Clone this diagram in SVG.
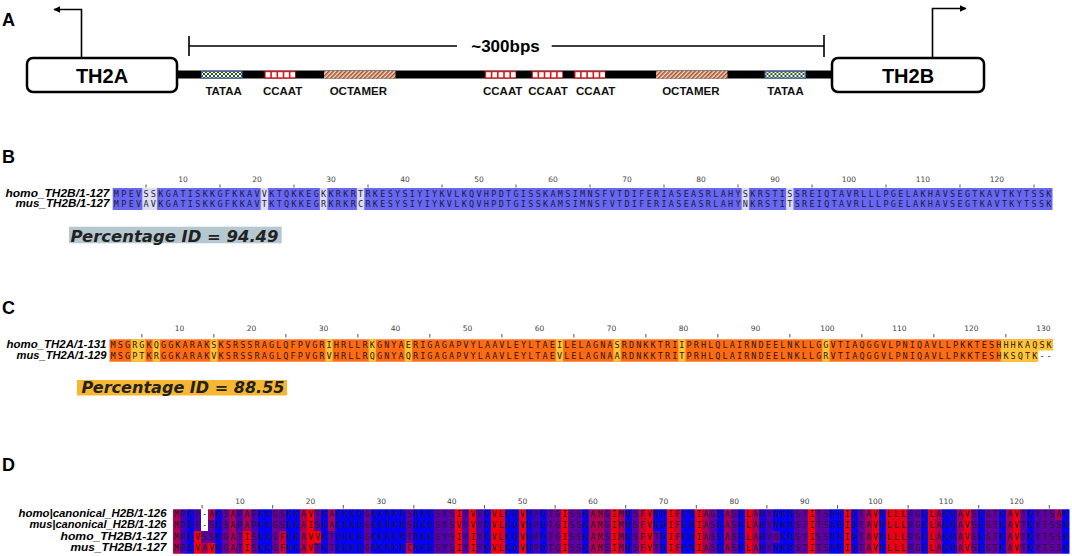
<svg xmlns="http://www.w3.org/2000/svg" width="1072" height="556" viewBox="0 0 1072 556">
<defs>
<style>
.plab{font-family:"Liberation Sans",Arial,sans-serif;font-weight:bold;font-size:18px;fill:#000}
.gene{font-family:"Liberation Sans",Arial,sans-serif;font-weight:bold;font-size:20px;fill:#000;text-anchor:middle}
.el{font-family:"Liberation Sans",Arial,sans-serif;font-weight:bold;font-size:11.5px;fill:#111;text-anchor:middle}
.bps{font-family:"Liberation Sans",Arial,sans-serif;font-weight:bold;font-size:17px;fill:#000;text-anchor:middle}
.box{fill:#fff;stroke:#000;stroke-width:2.5}
.ln{fill:none;stroke:#000;stroke-width:1.6}
.sn{font-family:"Liberation Sans",Arial,sans-serif;font-weight:bold;font-style:italic;fill:#000;text-anchor:end}
.seq{font-family:"DejaVu Sans Mono","Liberation Mono",monospace}
.rul{font-family:"DejaVu Sans","Liberation Sans",sans-serif;font-size:7.5px;fill:#444;text-anchor:middle}
.tk{fill:none;stroke:#555;stroke-width:1}
.pid{font-family:"DejaVu Sans","Liberation Sans",sans-serif;font-weight:bold;font-style:italic;font-size:16px;fill:#222}
.M{fill:#b0004f}.P{fill:#4600b9}.b{fill:#0600f9}.A{fill:#ad0052}.G{fill:#6a0095}.V{fill:#f60009}.I{fill:#ff0000}.L{fill:#ea0015}.F{fill:#cb0034}.C{fill:#c2003d}.T{fill:#61009e}.S{fill:#5e00a1}.Y{fill:#4f00b0}.H{fill:#1500ea}.W{fill:#ffffff}
</style>
<pattern id="chk" width="4" height="4" patternUnits="userSpaceOnUse"><rect width="4" height="4" fill="#ffffff"/><rect width="2" height="2" fill="#2f5a1f"/><rect x="2" y="2" width="2" height="2" fill="#2f5a1f"/></pattern>
<pattern id="hatch" width="3" height="3" patternUnits="userSpaceOnUse" patternTransform="rotate(45)"><rect width="3" height="3" fill="#f2dccd"/><rect width="1.6" height="3" fill="#a9522c"/></pattern>
<marker id="ah" viewBox="0 0 10 10" refX="9" refY="5" markerWidth="7" markerHeight="7" markerUnits="userSpaceOnUse" orient="auto"><path d="M0,0L10,5L0,10z" fill="#000"/></marker>
<g id="ccaat"><rect width="31" height="7.5" fill="#e3121a"/><rect x="1.2" y="1.2" width="4.6" height="5.1" fill="#fff"/><rect x="7.4" y="1.2" width="4.6" height="5.1" fill="#fff"/><rect x="13.6" y="1.2" width="4.6" height="5.1" fill="#fff"/><rect x="19.8" y="1.2" width="4.6" height="5.1" fill="#fff"/><rect x="26" y="1.2" width="4.6" height="5.1" fill="#fff"/></g>
<g id="tataa"><rect x="0.5" y="0.5" width="40.5" height="6.5" fill="url(#chk)" stroke="#3f63b0" stroke-width="1"/></g>
<g id="octamer"><rect width="71.5" height="7.5" fill="url(#hatch)"/></g>
</defs>
<rect width="1072" height="556" fill="#fff"/>

<!-- Panel A -->
<text class="plab" x="2" y="26">A</text>
<g id="connectors">
<path class="ln" d="M81.5,58V9.5H54" marker-end="url(#ah)"/>
<path class="ln" d="M932.5,58V8.5H966" marker-end="url(#ah)"/>
<path class="ln" d="M189,36V56M189,46H457M551.7,46H824M824,35V57"/>
</g>
<text class="bps" x="505.5" y="52.3">~300bps</text>
<g id="promoter">
<rect x="176" y="70.5" width="657" height="8" fill="#000"/>
<use href="#tataa" x="201" y="71"/>
<use href="#ccaat" x="264.5" y="71"/>
<use href="#octamer" x="324" y="71"/>
<use href="#ccaat" x="485" y="71"/>
<use href="#ccaat" x="531.7" y="71"/>
<use href="#ccaat" x="574.3" y="71"/>
<use href="#octamer" x="656" y="71"/>
<use href="#tataa" x="764.5" y="71"/>
<text class="el" x="223.6" y="94.5">TATAA</text>
<text class="el" x="282.6" y="94.5">CCAAT</text>
<text class="el" x="358.3" y="94.5">OCTAMER</text>
<text class="el" x="502.7" y="94.5">CCAAT</text>
<text class="el" x="548" y="94.5">CCAAT</text>
<text class="el" x="595.7" y="94.5">CCAAT</text>
<text class="el" x="690.8" y="94.5">OCTAMER</text>
<text class="el" x="785.5" y="94.5">TATAA</text>
</g>
<g id="TH2A"><rect class="box" x="27" y="58" width="150" height="34" rx="6"/><text class="gene" x="102" y="83">TH2A</text></g>
<g id="TH2B"><rect class="box" x="832" y="58" width="152" height="34" rx="6"/><text class="gene" x="908" y="83">TH2B</text></g>

<!-- Panel B -->
<text class="plab" x="2" y="163">B</text>
<g id="panelB">
<g class="rul">
<text x="183" y="182.3">10</text><text x="257" y="182.3">20</text><text x="331" y="182.3">30</text><text x="405" y="182.3">40</text><text x="479" y="182.3">50</text><text x="553" y="182.3">60</text><text x="627" y="182.3">70</text><text x="701" y="182.3">80</text><text x="775" y="182.3">90</text><text x="849" y="182.3">100</text><text x="923" y="182.3">110</text><text x="997" y="182.3">120</text>
</g>
<path class="tk" d="M146,184.5v3M220,184.5v3M294,184.5v3M368,184.5v3M442,184.5v3M516,184.5v3M590,184.5v3M664,184.5v3M738,184.5v3M812,184.5v3M886,184.5v3M960,184.5v3M1034,184.5v3"/>
<rect x="112.7" y="188" width="939.8" height="22" fill="#6767f2"/>
<g fill="#dedcf0">
<rect x="142.3" y="188" width="14.8" height="22"/><rect x="260.7" y="188" width="7.4" height="22"/><rect x="319.9" y="188" width="7.4" height="22"/><rect x="356.9" y="188" width="7.4" height="22"/><rect x="741.7" y="188" width="7.4" height="22"/><rect x="786.1" y="188" width="7.4" height="22"/>
</g>
<text class="sn" x="109.5" y="196.8" font-size="10.5" textLength="104" lengthAdjust="spacingAndGlyphs">homo_TH2B/1-127</text>
<text class="sn" x="109.5" y="207.3" font-size="10.5" textLength="94" lengthAdjust="spacingAndGlyphs">mus_TH2B/1-127</text>
<g class="seq" font-size="8.5" letter-spacing="2.283" fill="#1c1c3c">
<text x="113.84" y="196.8">MPEVSSKGATISKKGFKKAVVKTQKKEGKKRKRTRKESYSIYIYKVLKQVHPDTGISSKAMSIMNSFVTDIFERIASEASRLAHYSKRSTISSREIQTAVRLLLPGELAKHAVSEGTKAVTKYTSSK</text>
<text x="113.84" y="207.3">MPEVAVKGATISKKGFKKAVTKTQKKEGRKRKRCRKESYSIYIYKVLKQVHPDTGISSKAMSIMNSFVTDIFERIASEASRLAHYNKRSTITSREIQTAVRLLLPGELAKHAVSEGTKAVTKYTSSK</text>
</g>
<rect x="69" y="226.7" width="212.7" height="16.6" fill="#b6c8cf"/>
<text class="pid" x="70.5" y="241.5" textLength="208" lengthAdjust="spacingAndGlyphs">Percentage ID = 94.49</text>
</g>

<!-- Panel C -->
<text class="plab" x="2" y="314">C</text>
<g id="panelC">
<g class="rul">
<text x="179.4" y="331">10</text><text x="251.4" y="331">20</text><text x="323.4" y="331">30</text><text x="395.4" y="331">40</text><text x="467.4" y="331">50</text><text x="539.4" y="331">60</text><text x="611.4" y="331">70</text><text x="683.4" y="331">80</text><text x="755.4" y="331">90</text><text x="827.4" y="331">100</text><text x="899.4" y="331">110</text><text x="971.4" y="331">120</text><text x="1043.4" y="331">130</text>
</g>
<path class="tk" d="M141.9,334v3.5M213.9,334v3.5M285.9,334v3.5M357.9,334v3.5M429.9,334v3.5M501.9,334v3.5M573.9,334v3.5M645.9,334v3.5M717.9,334v3.5M789.9,334v3.5M861.9,334v3.5M933.9,334v3.5M1005.9,334v3.5"/>
<rect x="109.5" y="339.3" width="943.2" height="22.4" fill="#ff6a14"/>
<g fill="#ffc43a">
<rect x="131.1" y="339.3" width="14.4" height="22.4"/><rect x="152.7" y="339.3" width="7.2" height="22.4"/><rect x="210.3" y="339.3" width="7.2" height="22.4"/><rect x="325.5" y="339.3" width="7.2" height="22.4"/><rect x="368.7" y="339.3" width="7.2" height="22.4"/><rect x="404.7" y="339.3" width="7.2" height="22.4"/><rect x="555.9" y="339.3" width="7.2" height="22.4"/><rect x="613.5" y="339.3" width="7.2" height="22.4"/><rect x="678.3" y="339.3" width="7.2" height="22.4"/><rect x="822.3" y="339.3" width="7.2" height="22.4"/><rect x="1000.5" y="339.3" width="52.2" height="22.4"/>
</g>
<rect x="1038.3" y="350.5" width="15" height="11.5" fill="#fff"/>
<text class="sn" x="106.5" y="347.7" font-size="10.5" textLength="100" lengthAdjust="spacingAndGlyphs">homo_TH2A/1-131</text>
<text class="sn" x="106.5" y="359.3" font-size="10.5" textLength="90" lengthAdjust="spacingAndGlyphs">mus_TH2A/1-129</text>
<g class="seq" font-size="8.5" letter-spacing="2.083" fill="#2b1a0e">
<text x="110.54" y="347.7">MSGRGKQGGKARAKSKSRSSRAGLQFPVGRIHRLLRKGNYAERIGAGAPVYLAAVLEYLTAEILELAGNASRDNKKTRIIPRHLQLAIRNDEELNKLLGGVTIAQGGVLPNIQAVLLPKKTESHHHKAQSK</text>
<text x="110.54" y="359.3">MSGPTKRGGKARAKVKSRSSRAGLQFPVGRVHRLLRQGNYAQRIGAGAPVYLAAVLEYLTAEVLELAGNAARDNKKTRITPRHLQLAIRNDEELNKLLGRVTIAQGGVLPNIQAVLLPKKTESHKSQTK--</text>
</g>
<rect x="77" y="380" width="210" height="15.5" fill="#f8b733"/>
<text class="pid" x="81.5" y="393.3" textLength="203" lengthAdjust="spacingAndGlyphs">Percentage ID = 88.55</text>
</g>

<!-- Panel D -->
<text class="plab" x="2" y="471">D</text>
<g id="panelD">
<g class="rul">
<text x="240" y="503.5">10</text><text x="310.6" y="503.5">20</text><text x="381.2" y="503.5">30</text><text x="451.8" y="503.5">40</text><text x="522.4" y="503.5">50</text><text x="593" y="503.5">60</text><text x="663.6" y="503.5">70</text><text x="734.2" y="503.5">80</text><text x="804.8" y="503.5">90</text><text x="875.4" y="503.5">100</text><text x="946" y="503.5">110</text><text x="1016.6" y="503.5">120</text>
</g>
<path class="tk" d="M202.1,505v3.5M272.7,505v3.5M343.3,505v3.5M413.9,505v3.5M484.5,505v3.5M555.1,505v3.5M625.7,505v3.5M696.3,505v3.5M766.9,505v3.5M837.5,505v3.5M908.1,505v3.5M978.7,505v3.5M1049.3,505v3.5"/>
<svg x="172.9" y="509.3" width="896.6" height="44.4" viewBox="0 0 127 4" preserveAspectRatio="none" shape-rendering="crispEdges">
<rect x="0" width="1" height="4" class="M"/><rect x="1" width="1" height="4" class="P"/><rect x="2" width="1" height="4" class="b"/>
<rect x="3" y="0" width="1" height="2" class="P"/><rect x="3" y="2" width="1" height="2" class="V"/>
<rect x="4" y="0" width="1" height="2" class="W"/><rect x="4" y="2" width="1" height="1" class="S"/><rect x="4" y="3" width="1" height="1" class="A"/>
<rect x="5" y="0" width="1" height="1" class="A"/><rect x="5" y="1" width="1" height="2" class="S"/><rect x="5" y="3" width="1" height="1" class="V"/>
<rect x="6" width="1" height="4" class="b"/>
<rect x="7" y="0" width="1" height="2" class="S"/><rect x="7" y="2" width="1" height="2" class="G"/>
<rect x="8" width="1" height="4" class="A"/>
<rect x="9" y="0" width="1" height="2" class="P"/><rect x="9" y="2" width="1" height="2" class="T"/>
<rect x="10" y="0" width="1" height="2" class="A"/><rect x="10" y="2" width="1" height="2" class="I"/>
<rect x="11" y="0" width="1" height="2" class="P"/><rect x="11" y="2" width="1" height="2" class="S"/>
<rect x="12" width="2" height="4" class="b"/><rect x="14" width="1" height="4" class="G"/>
<rect x="15" y="0" width="1" height="2" class="S"/><rect x="15" y="2" width="1" height="2" class="F"/>
<rect x="16" width="2" height="4" class="b"/><rect x="18" width="1" height="4" class="A"/><rect x="19" width="1" height="4" class="V"/>
<rect x="20" y="0" width="1" height="1" class="T"/><rect x="20" y="1" width="1" height="1" class="S"/><rect x="20" y="2" width="1" height="1" class="V"/><rect x="20" y="3" width="1" height="1" class="T"/>
<rect x="21" width="1" height="4" class="b"/>
<rect x="22" y="0" width="1" height="2" class="A"/><rect x="22" y="2" width="1" height="2" class="T"/>
<rect x="23" width="4" height="4" class="b"/><rect x="27" width="1" height="4" class="G"/><rect x="28" width="5" height="4" class="b"/>
<rect x="33" y="0" width="1" height="2" class="S"/><rect x="33" y="2" width="1" height="1" class="T"/><rect x="33" y="3" width="1" height="1" class="C"/>
<rect x="34" width="3" height="4" class="b"/><rect x="37" width="1" height="4" class="S"/><rect x="38" width="1" height="4" class="Y"/><rect x="39" width="1" height="4" class="S"/><rect x="40" width="1" height="4" class="I"/><rect x="41" width="1" height="4" class="Y"/><rect x="42" width="1" height="4" class="I"/><rect x="43" width="1" height="4" class="Y"/><rect x="44" width="1" height="4" class="b"/><rect x="45" width="1" height="4" class="V"/><rect x="46" width="1" height="4" class="L"/><rect x="47" width="2" height="4" class="b"/><rect x="49" width="1" height="4" class="V"/><rect x="50" width="1" height="4" class="H"/><rect x="51" width="1" height="4" class="P"/><rect x="52" width="1" height="4" class="b"/><rect x="53" width="1" height="4" class="T"/><rect x="54" width="1" height="4" class="G"/><rect x="55" width="1" height="4" class="I"/><rect x="56" width="2" height="4" class="S"/><rect x="58" width="1" height="4" class="b"/><rect x="59" width="1" height="4" class="A"/><rect x="60" width="1" height="4" class="M"/>
<rect x="61" y="0" width="1" height="2" class="G"/><rect x="61" y="2" width="1" height="2" class="S"/>
<rect x="62" width="1" height="4" class="I"/><rect x="63" width="1" height="4" class="M"/><rect x="64" width="1" height="4" class="b"/><rect x="65" width="1" height="4" class="S"/><rect x="66" width="1" height="4" class="F"/><rect x="67" width="1" height="4" class="V"/>
<rect x="68" y="0" width="1" height="2" class="b"/><rect x="68" y="2" width="1" height="2" class="T"/>
<rect x="69" width="1" height="4" class="b"/><rect x="70" width="1" height="4" class="I"/><rect x="71" width="1" height="4" class="F"/><rect x="72" width="2" height="4" class="b"/><rect x="74" width="1" height="4" class="I"/><rect x="75" width="1" height="4" class="A"/>
<rect x="76" y="0" width="1" height="1" class="G"/><rect x="76" y="1" width="1" height="3" class="S"/>
<rect x="77" width="1" height="4" class="b"/><rect x="78" width="1" height="4" class="A"/><rect x="79" width="1" height="4" class="S"/><rect x="80" width="1" height="4" class="b"/><rect x="81" width="1" height="4" class="L"/><rect x="82" width="1" height="4" class="A"/><rect x="83" width="1" height="4" class="H"/><rect x="84" width="1" height="4" class="Y"/>
<rect x="85" y="0" width="1" height="4" class="b"/><rect x="85" y="2" width="1" height="1" class="S"/>
<rect x="86" width="2" height="4" class="b"/><rect x="88" width="1" height="4" class="S"/><rect x="89" width="1" height="4" class="T"/><rect x="90" width="1" height="4" class="I"/><rect x="91" width="1" height="4" class="T"/><rect x="92" width="1" height="4" class="S"/><rect x="93" width="2" height="4" class="b"/><rect x="95" width="1" height="4" class="I"/><rect x="96" width="1" height="4" class="b"/><rect x="97" width="1" height="4" class="T"/><rect x="98" width="1" height="4" class="A"/><rect x="99" width="1" height="4" class="V"/><rect x="100" width="1" height="4" class="b"/><rect x="101" width="3" height="4" class="L"/><rect x="104" width="1" height="4" class="P"/><rect x="105" width="1" height="4" class="G"/><rect x="106" width="1" height="4" class="b"/><rect x="107" width="1" height="4" class="L"/><rect x="108" width="1" height="4" class="A"/><rect x="109" width="1" height="4" class="b"/><rect x="110" width="1" height="4" class="H"/><rect x="111" width="1" height="4" class="A"/><rect x="112" width="1" height="4" class="V"/><rect x="113" width="1" height="4" class="S"/><rect x="114" width="1" height="4" class="b"/><rect x="115" width="1" height="4" class="G"/><rect x="116" width="1" height="4" class="T"/><rect x="117" width="1" height="4" class="b"/><rect x="118" width="1" height="4" class="A"/><rect x="119" width="1" height="4" class="V"/><rect x="120" width="1" height="4" class="T"/><rect x="121" width="1" height="4" class="b"/><rect x="122" width="1" height="4" class="Y"/><rect x="123" width="1" height="4" class="T"/><rect x="124" width="1" height="4" class="S"/>
<rect x="125" y="0" width="1" height="1" class="A"/><rect x="125" y="1" width="1" height="3" class="S"/>
<rect x="126" width="1" height="4" class="b"/>
</svg>
<text class="sn" x="166.5" y="517.3" font-size="10.5" textLength="148" lengthAdjust="spacingAndGlyphs">homo|canonical_H2B/1-126</text>
<text class="sn" x="166.5" y="528.4" font-size="10.5" textLength="137" lengthAdjust="spacingAndGlyphs">mus|canonical_H2B/1-126</text>
<text class="sn" x="166.5" y="539.5" font-size="10.5" textLength="106" lengthAdjust="spacingAndGlyphs">homo_TH2B/1-127</text>
<text class="sn" x="166.5" y="550.6" font-size="10.5" textLength="96" lengthAdjust="spacingAndGlyphs">mus_TH2B/1-127</text>
<g class="seq" font-size="8" letter-spacing="2.244" fill="#1e1e1e">
<text x="174.02" y="517.3">MPEP-AKSAPAPKKGSKKAVTKAQKKDGKKRKRSRKESYSIYVYKVLKQVHPDTGISSKAMGIMNSFVNDIFERIAGEASRLAHYNKRSTITSREIQTAVRLLLPGELAKHAVSEGTKAVTKYTSAK</text>
<text x="174.02" y="528.4">MPEP-SKSAPAPKKGSKKAISKAQKKDGKKRKRSRKESYSVYVYKVLKQVHPDTGISSKAMGIMNSFVNDIFERIASEASRLAHYNKRSTITSREIQTAVRLLLPGELAKHAVSEGTKAVTKYTSSK</text>
<text x="174.02" y="539.5">MPEVSSKGATISKKGFKKAVVKTQKKEGKKRKRTRKESYSIYIYKVLKQVHPDTGISSKAMSIMNSFVTDIFERIASEASRLAHYSKRSTISSREIQTAVRLLLPGELAKHAVSEGTKAVTKYTSSK</text>
<text x="174.02" y="550.6">MPEVAVKGATISKKGFKKAVTKTQKKEGRKRKRCRKESYSIYIYKVLKQVHPDTGISSKAMSIMNSFVTDIFERIASEASRLAHYNKRSTITSREIQTAVRLLLPGELAKHAVSEGTKAVTKYTSSK</text>
</g>
</g>
</svg>
